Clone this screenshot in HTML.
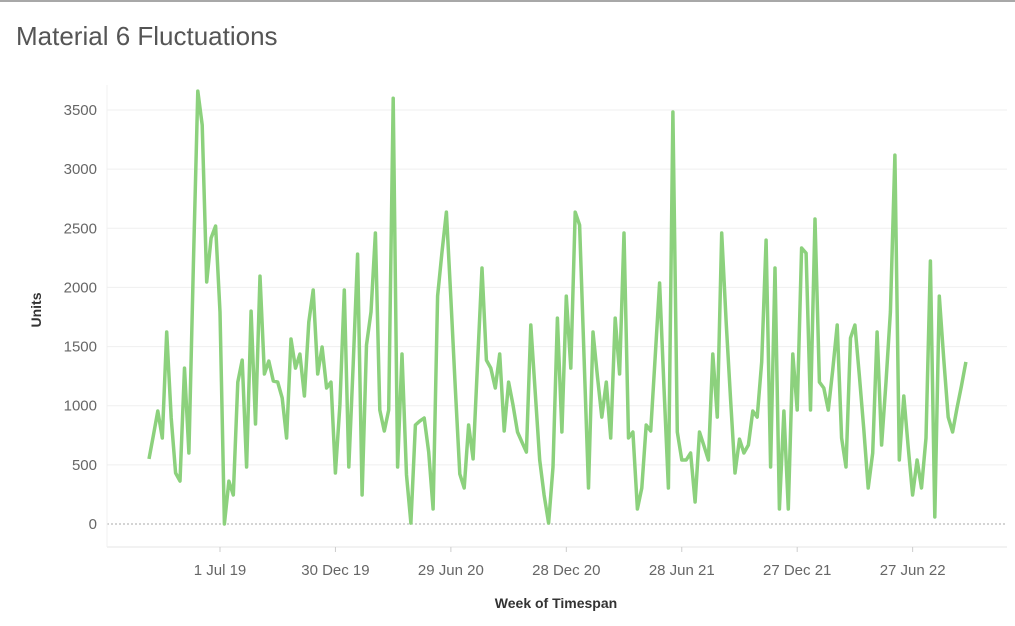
<!DOCTYPE html>
<html><head><meta charset="utf-8"><style>
body{margin:0;background:#fff;width:1015px;height:621px;overflow:hidden;font-family:"Liberation Sans",sans-serif}
</style></head><body>
<svg width="1015" height="621">
<line x1="0" y1="1" x2="1015" y2="1" stroke="#a8a8a8" stroke-width="2"/>
<text x="16" y="45" font-size="26" fill="#555">Material 6 Fluctuations</text>
<g id="grid"></g><g id="yt"></g><g id="xt"></g>
<path id="ln" fill="none" stroke="#8cd17d" stroke-width="3.5" stroke-linejoin="round"/>
<text x="0" y="0" transform="translate(41,310) rotate(-90)" text-anchor="middle" font-size="14" font-weight="bold" fill="#333">Units</text>
<text x="556" y="608" text-anchor="middle" font-size="14" font-weight="bold" fill="#333">Week of Timespan</text>
</svg>
<script>
const startDate = "2019-03-11";
const values = [550,750,955,727,1623,896,431,363,1318,600,2200,3660,3373,2046,2418,2519,1792,0,363,245,1200,1386,482,1800,845,2096,1268,1378,1209,1200,1065,727,1564,1318,1437,1082,1707,1978,1268,1496,1150,1200,431,1006,1978,482,1350,2282,245,1513,1792,2460,964,786,964,3600,482,1437,414,8,837,870,896,608,127,1927,2300,2637,1900,1150,423,304,837,550,1350,2164,1386,1318,1150,1437,786,1200,1006,778,693,608,1682,1116,541,245,8,482,1741,778,1927,1318,2637,2527,1400,304,1623,1250,904,1200,727,1741,1268,2460,727,778,127,304,837,786,1400,2037,1150,304,3483,778,541,541,600,186,778,660,541,1437,904,2460,1700,1050,431,718,600,668,955,904,1370,2400,482,2164,127,955,127,1437,964,2333,2290,964,2578,1200,1150,964,1300,1682,727,482,1572,1682,1250,800,304,600,1623,668,1200,1792,3119,541,1082,650,245,541,304,727,2223,59,1927,1400,904,778,980,1170,1370];
const yTicks = [0,500,1000,1500,2000,2500,3000,3500];
const xTickDates = ["2019-07-01","2019-12-30","2020-06-29","2020-12-28","2021-06-28","2021-12-27","2022-06-27"];
const xTickLabels = ["1 Jul 19","30 Dec 19","29 Jun 20","28 Dec 20","28 Jun 21","27 Dec 21","27 Jun 22"];
const NS="http://www.w3.org/2000/svg";
const ref=Date.parse("2019-07-01");
function xs(d){return 220+(Date.parse(d)-ref)/864e5*4.44/7;}
function ys(v){return 524-v*0.11829;}
function mk(t,a,p){const e=document.createElementNS(NS,t);for(const k in a)e.setAttribute(k,a[k]);document.getElementById(p).appendChild(e);return e;}
yTicks.forEach(v=>{
 const g=mk('line',{x1:107,x2:1007,y1:ys(v),y2:ys(v),stroke:v===0?'#aaa':'#efefef','stroke-width':1,'stroke-dasharray':v===0?'2,2':'none'},'grid');
 
 
 const t=mk('text',{x:97,y:ys(v)+5,'text-anchor':'end','font-size':15,fill:'#666'},'yt');
 t.textContent=v;
 
 
});
const ax=mk('line',{x1:107,x2:1007,y1:547,y2:547,stroke:'#e6e6e6'},'grid');


const ay=mk('line',{x1:107,x2:107,y1:85,y2:547,stroke:'#f0f0f0'},'grid');


xTickDates.forEach((d,i)=>{
 const x=xs(d);
 const tk=mk('line',{x1:x,x2:x,y1:547,y2:552,stroke:'#ccc'},'xt');
 
 
 const t=mk('text',{x:x,y:575,'text-anchor':'middle','font-size':15,fill:'#666'},'xt');
 t.textContent=xTickLabels[i];
 
 
});
const s0=Date.parse(startDate);
let d='';
values.forEach((v,i)=>{const dt=new Date(s0+i*7*864e5).toISOString().slice(0,10);d+=(i?'L':'M')+xs(dt).toFixed(1)+','+ys(v).toFixed(1);});
document.getElementById('ln').setAttribute('d',d);
</script>
</body></html>
